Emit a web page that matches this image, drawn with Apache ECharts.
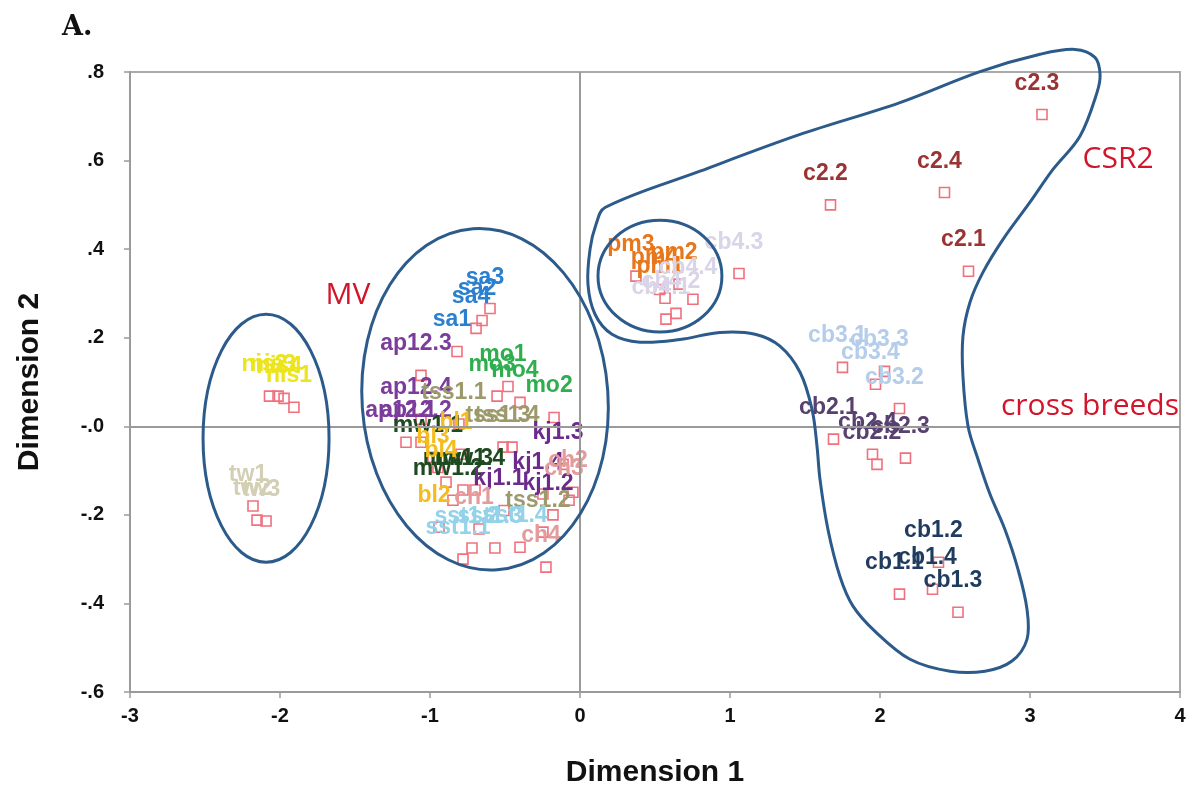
<!DOCTYPE html>
<html><head><meta charset="utf-8">
<script src="https://cdn.jsdelivr.net/npm/echarts@6/dist/echarts.min.js"></script>
<style>html,body{margin:0;padding:0;background:#fff}#c{width:1190px;height:793px}</style>
</head><body><div id="c"></div>
<script>
// ---- data ----
const groupNames = ['nis','tw','sa','ap12','mo','tss','mw','bl','kj','ch','sst','pm','cb4','cb3','cb2','cb1','c2'];
const groupColors = ['#ece41c','#d3cfb4','#2b7fcf','#7b3c9c','#2fae4f','#9c9a6c','#1d4a1f','#f4bc1c','#6c2a8c','#e39c9c','#94d2ea','#e8761a','#d9d4e8','#b3cdea','#58406f','#1f3b5e','#9a3434'];
const pointLabels = ['nis1','nis2','nis3','nis4','tw1','tw2','tw3',
  'sa1','sa2','sa3','sa4','ap12.1','ap12.2','ap12.3','ap12.4',
  'mo1','mo2','mo3','mo4','tss1.1','tss1.3','tss1.4','tss1.2',
  'mw1.1','mw1.3','mw1.4','mw1.2','bl1','bl3','bl4','bl2',
  'kj1.3','kj1.4','kj1.1','kj1.2','ch2','ch3','ch1','ch4',
  'sst1.1','sst1.2','sst1.3','sst1.4',
  'pm3','pm2','pm4','pm1','cb4.3','cb4.4','cb4.1','cb4.2',
  'cb3.1','cb3.3','cb3.4','cb3.2','cb2.1','cb2.4','cb2.2','cb2.3',
  'cb1.1','cb1.2','cb1.3','cb1.4','c2.1','c2.2','c2.3','c2.4'];
const pointGroup = [0,0,0,0,1,1,1,
  2,2,2,2,3,3,3,3,
  4,4,4,4,5,5,5,5,
  6,6,6,6,7,7,7,7,
  8,8,8,8,9,9,9,9,
  10,10,10,10,
  11,11,11,11,12,12,12,12,
  13,13,13,13,14,14,14,14,
  15,15,15,15,16,16,16,16];
const dim1 = [-1.907,-2.07,-2.013,-1.973,-2.18,-2.153,-2.093,
  -0.82,-0.653,-0.60,-0.693,-1.16,-1.06,-1.06,-1.06,
  -0.48,-0.173,-0.553,-0.40,-0.807,-0.513,-0.453,-0.247,
  -0.98,-0.78,-0.70,-0.847,-0.793,-0.947,-0.893,-0.94,
  -0.113,-0.247,-0.507,-0.18,-0.047,-0.073,-0.673,-0.227,
  -0.78,-0.72,-0.567,-0.40,
  0.373,0.66,0.53,0.567,1.06,0.753,0.573,0.64,
  1.75,2.03,1.97,2.13,1.69,1.95,1.98,2.17,
  2.13,2.39,2.52,2.35,2.59,1.67,3.08,2.43];
const dim2 = [0.043,0.068,0.068,0.063,-0.18,-0.212,-0.214,
  0.169,0.239,0.266,0.221,-0.036,-0.036,0.115,0.016,
  0.090,0.020,0.068,0.054,0.005,-0.047,-0.047,-0.239,
  -0.07,-0.144,-0.144,-0.167,-0.063,-0.093,-0.126,-0.228,
  -0.086,-0.153,-0.19,-0.20,-0.149,-0.167,-0.232,-0.318,
  -0.30,-0.275,-0.275,-0.273,
  0.339,0.321,0.309,0.289,0.345,0.287,0.242,0.255,
  0.133,0.124,0.095,0.04,-0.029,-0.063,-0.086,-0.072,
  -0.379,-0.307,-0.42,-0.368,0.35,0.50,0.704,0.528];
const xTickLabels = ['-3','-2','-1','0','1','2','3','4'];
const yTickValues = [-0.6,-0.4,-0.2,0,0.2,0.4,0.6,0.8];
const yTickLabels = ['-.6','-.4','-.2','-.0','.2','.4','.6','.8'];
// annotation shapes (data units)
const ellipses = [ // [cx, cy, rx, ry, rotation(rad)]
  [-2.093,-0.027,0.42,0.28,0],
  [-0.633,0.061,0.82,0.386,0.07],
  [0.533,0.339,0.413,0.126,0]
];
const outlineX = [0.167,0.8,1.467,2.133,2.667,3.067,3.30,3.433,3.467,3.447,3.333,3.153,3.0,2.82,2.687,2.60,2.553,2.553,2.587,2.653,2.733,2.833,2.92,2.98,2.98,2.88,2.70,2.467,2.20,1.967,1.82,1.733,1.653,1.60,1.58,1.547,1.467,1.333,1.167,0.933,0.667,0.40,0.213,0.10,0.053,0.067,0.107];
const outlineY = [0.494,0.576,0.659,0.731,0.801,0.840,0.851,0.833,0.795,0.754,0.655,0.580,0.506,0.422,0.348,0.280,0.203,0.113,0.0,-0.074,-0.153,-0.233,-0.323,-0.413,-0.481,-0.530,-0.553,-0.553,-0.526,-0.463,-0.406,-0.339,-0.233,-0.120,-0.045,0.038,0.122,0.181,0.208,0.212,0.196,0.190,0.208,0.253,0.321,0.40,0.456];
const annotations = [['MV',-1.547,0.296],['CSR2',3.587,0.603],['cross breeds',3.40,0.045]];

// ---- chart ----
const chart = echarts.init(document.getElementById('c'), null, {renderer:'canvas'});
const series = groupNames.map((g, gi) => ({
  type:'scatter', name:g,
  data: pointLabels.map((l,i)=>[dim1[i],dim2[i],l,pointGroup[i]]).filter(d=>d[3]===gi),
  symbol:'rect', symbolSize:10,
  itemStyle:{color:'rgba(255,255,255,0)', borderColor:'#f0707e', borderWidth:1.6, opacity:1},
  label:{show:true, formatter:p=>p.data[2], position:'top', distance:14, offset:[-5,0],
    color:groupColors[gi], opacity:1, fontSize:23, fontWeight:'bold', fontFamily:'Liberation Sans, Arial, sans-serif'},
  emphasis:{disabled:true}, silent:true, z:3
}));
series.push({
  type:'scatter', data:[], silent:true, z:1,
  markLine:{silent:true, symbol:'none', animation:false, label:{show:false},
    lineStyle:{color:'#9a9a9a', width:2, type:'solid'},
    data:[{xAxis:0},{yAxis:0}]}
});
const axisFont = {color:'#111', fontSize:20, fontWeight:'bold', fontFamily:'Liberation Sans, Arial, sans-serif'};
chart.setOption({
  animation:false,
  backgroundColor:'#fff',
  grid:{left:130, right:10, top:72, bottom:101, show:true, borderColor:'#aaaaaa', borderWidth:2, backgroundColor:'transparent'},
  xAxis:{type:'value', min:-3, max:4, interval:1,
    name:'Dimension 1', nameLocation:'middle', nameGap:66,
    nameTextStyle:{color:'#111', fontSize:30, fontWeight:'bold', fontFamily:'Liberation Sans, Arial, sans-serif'},
    axisLine:{show:true, onZero:false, lineStyle:{color:'#9a9a9a', width:2}},
    axisTick:{show:true, inside:false, length:6, lineStyle:{color:'#9a9a9a', width:1.5}},
    axisLabel:Object.assign({margin:14, formatter:v=>xTickLabels[Math.round(v)+3]}, axisFont),
    splitLine:{show:false}},
  yAxis:{type:'value', min:-0.6, max:0.8, interval:0.2,
    name:'Dimension 2', nameLocation:'middle', nameGap:85, nameRotate:90,
    nameTextStyle:{color:'#111', fontSize:30, fontWeight:'bold', fontFamily:'Liberation Sans, Arial, sans-serif'},
    axisLine:{show:true, onZero:false, lineStyle:{color:'#9a9a9a', width:2}},
    axisTick:{show:true, inside:false, length:6, lineStyle:{color:'#9a9a9a', width:1.5}},
    axisLabel:Object.assign({margin:26, formatter:v=>{
      let k=0,b=1e9; yTickValues.forEach((t,i)=>{const d=Math.abs(t-v); if(d<b){b=d;k=i;}}); return yTickLabels[k];}}, axisFont),
    splitLine:{show:false}},
  series:series
});

// ---- annotations (positioned through the grid's own scales) ----
const toPx = p => chart.convertToPixel({gridIndex:0}, p);
const graphics = [];
graphics.push({type:'text', left:62, top:14, z:200,
  style:{text:'A.', font:'bold 27px "DejaVu Serif", "Liberation Serif", serif', fill:'#111'}});
ellipses.forEach(e => {
  const c = toPx([e[0],e[1]]);
  const rx = toPx([e[0]+e[2],e[1]])[0]-c[0];
  const ry = c[1]-toPx([e[0],e[1]+e[3]])[1];
  graphics.push({type:'ellipse', z:100, silent:true, rotation:e[4], originX:c[0], originY:c[1],
    shape:{cx:c[0], cy:c[1], rx:rx, ry:ry},
    style:{fill:'none', stroke:'#2c5b8b', lineWidth:3}});
});
const outlinePts = outlineX.map((x,i)=>toPx([x,outlineY[i]]));
graphics.push({type:'polygon', z:100, silent:true,
  shape:{points:outlinePts, smooth:0.35},
  style:{fill:'none', stroke:'#2c5b8b', lineWidth:3}});
annotations.forEach(a => {
  const p = toPx([a[1],a[2]]);
  graphics.push({type:'text', x:p[0], y:p[1], z:200, silent:true,
    style:{text:a[0], align:'center', verticalAlign:'middle', fill:'#d2152a',
      font:'30px "Open Sans", Lato, sans-serif'}});
});
chart.setOption({graphic:graphics});
</script></body></html>
